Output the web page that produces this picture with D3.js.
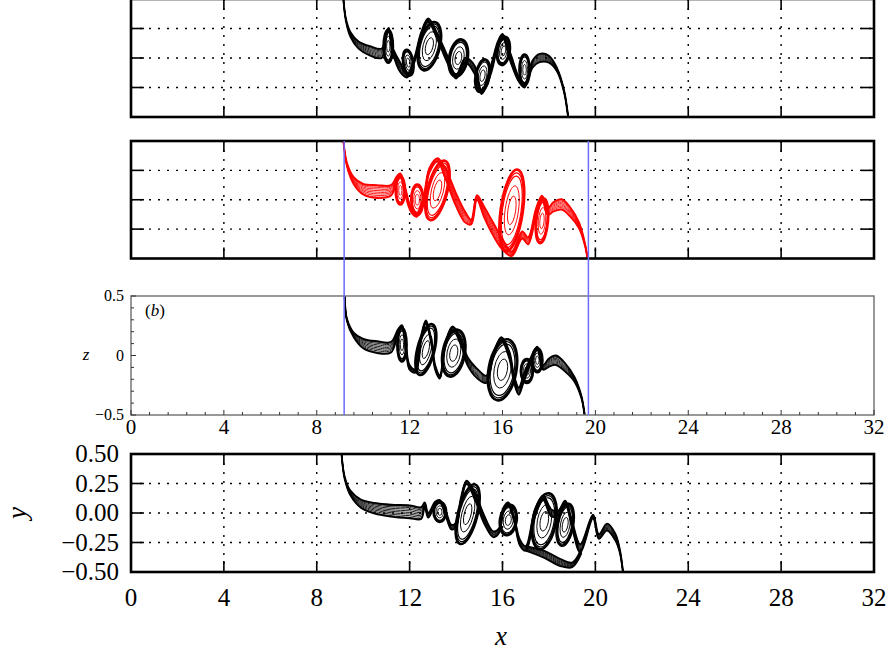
<!DOCTYPE html>
<html>
<head>
<meta charset="utf-8">
<script src="https://cdn.jsdelivr.net/npm/d3@7"></script>
<style>
body { margin: 0; background: #fff; }
svg { display: block; }
</style>
</head>
<body>
<svg id="fig" width="890" height="655"></svg>
<script>
// axis values
const xTicks = [0, 4, 8, 12, 16, 20, 24, 28, 32];
const xMinorC = d3.range(0, 32.01, 0.8);
const yGrid = [0.25, 0, -0.25];
const yTicksD = [0.5, 0.25, 0, -0.25, -0.5];
const yTicksC = [0.5, 0, -0.5];
const yMinorC = [-0.4, -0.3, -0.2, -0.1, 0.1, 0.2, 0.3, 0.4];
const cutX = [9.18, 19.7];

// filament centre lines: [x, y, half band width]
const filamentA = [
  [9.14, 0.52, 0], [9.25, 0.33, 0.01], [9.45, 0.2, 0.02], [9.8, 0.11, 0.03],
  [10.3, 0.06, 0.04], [10.8, 0.04, 0.04], [11.0, 0.2, 0.02], [11.1, 0.245, 0.01],
  [11.25, 0.08, 0.02], [11.6, -0.08, 0.04], [11.9, -0.15, 0.015], [12.2, -0.02, 0.02],
  [12.5, 0.2, 0.02], [12.8, 0.32, 0.015], [13.2, 0.18, 0.025], [13.6, 0.0, 0.03],
  [14.0, -0.16, 0.015], [14.4, -0.02, 0.02], [14.8, -0.1, 0.035], [15.1, -0.29, 0.015],
  [15.5, -0.1, 0.035], [15.8, 0.12, 0.02], [16.0, 0.19, 0.015], [16.35, 0.0, 0.035],
  [16.7, -0.18, 0.02], [16.95, -0.235, 0.015], [17.3, -0.05, 0.03], [17.6, 0.0, 0.035],
  [18.0, -0.01, 0.03], [18.35, -0.1, 0.015], [18.65, -0.28, 0.01], [18.84, -0.52, 0.005]
];
// vortex cores: [x, y, half width, half height, tilt in degrees]
const vorticesA = [
  [11.08, 0.10, 0.2, 0.14, 0], [11.94, -0.04, 0.22, 0.11, -8], [12.85, 0.10, 0.45, 0.21, 14],
  [14.1, 0.0, 0.4, 0.16, 10], [15.14, -0.15, 0.3, 0.14, 10], [16.04, 0.06, 0.27, 0.12, 8],
  [16.95, -0.1, 0.22, 0.13, 0]
];

const filamentB = [
  [9.14, 0.52, 0], [9.3, 0.3, 0.015], [9.6, 0.16, 0.03], [10.0, 0.09, 0.045],
  [10.6, 0.07, 0.055], [11.2, 0.08, 0.045], [11.45, 0.18, 0.02], [11.6, 0.21, 0.015],
  [11.8, 0.08, 0.03], [12.05, -0.08, 0.02], [12.3, -0.13, 0.015], [12.6, 0.0, 0.03],
  [12.85, 0.25, 0.02], [13.2, 0.34, 0.015], [13.55, 0.22, 0.045], [14.0, 0.0, 0.055],
  [14.4, -0.15, 0.045], [14.65, -0.19, 0.02], [14.9, 0.02, 0.02], [15.2, -0.1, 0.045],
  [15.6, -0.25, 0.055], [16.0, -0.38, 0.045], [16.4, -0.46, 0.02], [16.85, -0.3, 0.03],
  [17.1, -0.35, 0.03], [17.45, -0.1, 0.03], [17.7, 0.02, 0.015], [17.95, -0.1, 0.03],
  [18.2, -0.06, 0.04], [18.55, -0.04, 0.045], [18.9, -0.1, 0.04], [19.3, -0.22, 0.025],
  [19.55, -0.38, 0.01], [19.68, -0.52, 0.005]
];
const vorticesB = [
  [11.6, 0.08, 0.2, 0.12, 0], [12.33, 0.0, 0.26, 0.13, 0], [13.2, 0.08, 0.43, 0.26, 14],
  [16.4, -0.09, 0.48, 0.35, 8], [17.7, -0.18, 0.26, 0.19, 5]
];

const filamentC = [
  [9.2, 0.52, 0], [9.3, 0.3, 0.01], [9.6, 0.17, 0.02], [10.0, 0.1, 0.04],
  [10.6, 0.07, 0.05], [11.2, 0.07, 0.045], [11.5, 0.2, 0.02], [11.67, 0.24, 0.015],
  [11.85, 0.05, 0.02], [12.0, -0.1, 0.02], [12.25, -0.13, 0.015], [12.5, 0.15, 0.02],
  [12.7, 0.28, 0.015], [12.95, 0.1, 0.02], [13.1, -0.1, 0.02], [13.3, -0.18, 0.015],
  [13.55, 0.1, 0.02], [13.85, 0.23, 0.015], [14.2, 0.12, 0.025], [14.5, -0.05, 0.035],
  [14.9, -0.15, 0.04], [15.3, -0.2, 0.03], [15.6, 0.0, 0.02], [15.95, 0.14, 0.015],
  [16.3, 0.0, 0.03], [16.5, -0.2, 0.03], [16.7, -0.3, 0.03], [16.9, -0.2, 0.03],
  [17.2, -0.05, 0.025], [17.5, 0.06, 0.015], [17.75, -0.1, 0.02], [18.0, -0.06, 0.035],
  [18.3, -0.04, 0.04], [18.7, -0.1, 0.035], [19.1, -0.2, 0.02], [19.4, -0.35, 0.01],
  [19.55, -0.52, 0.005]
];
const vorticesC = [
  [11.67, 0.09, 0.2, 0.14, 0], [12.7, 0.05, 0.37, 0.22, 14], [13.9, 0.02, 0.48, 0.2, 10],
  [16.0, -0.12, 0.6, 0.26, 10], [17.05, -0.13, 0.26, 0.1, 0], [17.5, -0.04, 0.22, 0.1, 0]
];

const filamentD = [
  [9.06, 0.52, 0], [9.2, 0.3, 0.01], [9.45, 0.17, 0.02], [9.9, 0.08, 0.035],
  [10.5, 0.04, 0.045], [11.2, 0.02, 0.05], [12.0, 0.01, 0.055], [12.5, 0.0, 0.05],
  [12.65, 0.07, 0.02], [12.8, -0.02, 0.02], [13.1, 0.08, 0.015], [13.3, 0.1, 0.01],
  [13.55, 0.0, 0.02], [13.8, -0.12, 0.02], [14.0, -0.1, 0.02], [14.2, 0.1, 0.02],
  [14.45, 0.26, 0.015], [14.8, 0.15, 0.03], [15.2, -0.05, 0.035], [15.6, -0.18, 0.025],
  [15.85, -0.15, 0.02], [16.05, 0.03, 0.02], [16.25, 0.075, 0.015], [16.5, -0.05, 0.02],
  [16.75, -0.25, 0.025], [17.0, -0.3, 0.02], [17.4, 0.0, 0.03], [17.75, 0.13, 0.02],
  [18.1, 0.0, 0.03], [18.4, 0.0, 0.02], [18.7, 0.09, 0.015], [19.0, -0.1, 0.03],
  [19.35, -0.3, 0.035], [19.9, -0.03, 0.015], [20.15, -0.2, 0.02], [20.5, -0.12, 0.03],
  [20.85, -0.2, 0.03], [21.05, -0.32, 0.015], [21.2, -0.52, 0.005]
];
const filamentDLow = [
  [17.0, -0.3, 0.02], [17.8, -0.35, 0.03], [18.5, -0.42, 0.03], [19.0, -0.44, 0.02],
  [19.4, -0.32, 0.02]
];
const vorticesD = [
  [13.3, 0.01, 0.27, 0.085, 0], [14.5, -0.01, 0.42, 0.26, 14], [16.25, -0.06, 0.36, 0.13, 8],
  [17.8, -0.07, 0.5, 0.24, 10], [18.7, -0.1, 0.34, 0.18, 10]
];

const bandSteps = [-1, -0.85, -0.6, -0.35, -0.1, 0.15, 0.4, 0.65, 0.85, 1];
const ringSteps = [1, 0.92, 0.84, 0.6, 0.35];

const svg = d3.select('#fig');
const x = d3.scaleLinear().domain([0, 32]).range([131, 874]);

const panels = [
  { id: 'a', top: -1, bottom: 117, kind: 'grid', color: '#000', fil: [filamentA], vort: vorticesA },
  { id: 'b', top: 141, bottom: 258.5, kind: 'grid', color: '#f00', fil: [filamentB], vort: vorticesB },
  { id: 'c', top: 296, bottom: 415, kind: 'plain', color: '#000', fil: [filamentC], vort: vorticesC },
  { id: 'd', top: 454, bottom: 572, kind: 'grid', color: '#000', fil: [filamentD, filamentDLow], vort: vorticesD }
];

panels.forEach(p => {
  const y = d3.scaleLinear().domain([-0.5, 0.5]).range([p.bottom, p.top]);
  p.y = y;
  const g = svg.append('g');

  g.append('clipPath').attr('id', 'clip-' + p.id)
    .append('rect')
    .attr('x', x(0)).attr('y', y(0.5))
    .attr('width', x(32) - x(0)).attr('height', y(-0.5) - y(0.5));

  if (p.kind === 'grid') {
    // dotted grid
    g.selectAll('.vg').data(xTicks.slice(1, -1)).enter().append('line')
      .attr('x1', d => x(d)).attr('x2', d => x(d))
      .attr('y1', y(0.5)).attr('y2', y(-0.5))
      .attr('stroke', '#000').attr('stroke-width', 1.4).attr('stroke-dasharray', '2,7');
    g.selectAll('.hg').data(yGrid).enter().append('line')
      .attr('x1', x(0)).attr('x2', x(32))
      .attr('y1', d => y(d)).attr('y2', d => y(d))
      .attr('stroke', '#000').attr('stroke-width', 1.4).attr('stroke-dasharray', '2,7');
    // inward ticks
    const tl = 11;
    xTicks.slice(1, -1).forEach(t => {
      g.append('line').attr('x1', x(t)).attr('x2', x(t))
        .attr('y1', y(-0.5)).attr('y2', y(-0.5) - tl).attr('stroke', '#000').attr('stroke-width', 1.6);
      g.append('line').attr('x1', x(t)).attr('x2', x(t))
        .attr('y1', y(0.5)).attr('y2', y(0.5) + tl).attr('stroke', '#000').attr('stroke-width', 1.6);
    });
    yGrid.forEach(t => {
      g.append('line').attr('x1', x(0)).attr('x2', x(0) + tl + 2)
        .attr('y1', y(t)).attr('y2', y(t)).attr('stroke', '#000').attr('stroke-width', 1.6);
      g.append('line').attr('x1', x(32)).attr('x2', x(32) - tl - 2)
        .attr('y1', y(t)).attr('y2', y(t)).attr('stroke', '#000').attr('stroke-width', 1.6);
    });
  }

  // contour bands
  const cg = g.append('g').attr('clip-path', 'url(#clip-' + p.id + ')');
  p.fil.forEach(f => {
    bandSteps.forEach(k => {
      const line = d3.line()
        .x(d => x(d[0]))
        .y(d => y(d[1] + k * d[2]))
        .curve(d3.curveCatmullRom.alpha(0.5));
      cg.append('path').attr('d', line(f))
        .attr('fill', 'none').attr('stroke', p.color)
        .attr('stroke-width', Math.abs(k) === 1 ? 1.8 : 0.9);
    });
  });
  p.vort.forEach(v => {
    const cx = x(v[0]), cy = y(v[1]);
    ringSteps.forEach((s, i) => {
      cg.append('ellipse')
        .attr('transform', 'translate(' + cx + ',' + cy + ') rotate(' + v[4] + ')')
        .attr('rx', (x(v[0] + v[2]) - cx) * s)
        .attr('ry', (y(v[1] - v[3]) - cy) * s)
        .attr('fill', 'none').attr('stroke', p.color)
        .attr('stroke-width', i === 0 ? 2.6 : (i < 3 ? 1.2 : 0.9));
    });
  });

  if (p.kind === 'grid') {
    g.append('rect')
      .attr('x', x(0)).attr('y', y(0.5))
      .attr('width', x(32) - x(0)).attr('height', y(-0.5) - y(0.5))
      .attr('fill', 'none').attr('stroke', '#000').attr('stroke-width', 2.6);
  } else {
    g.append('rect')
      .attr('x', x(0)).attr('y', y(0.5))
      .attr('width', x(32) - x(0)).attr('height', y(-0.5) - y(0.5))
      .attr('fill', 'none').attr('stroke', '#777').attr('stroke-width', 1.5);
    xMinorC.forEach(t => {
      const major = Math.abs(t / 4 - Math.round(t / 4)) < 1e-6;
      g.append('line').attr('x1', x(t)).attr('x2', x(t))
        .attr('y1', y(-0.5)).attr('y2', y(-0.5) - (major ? 5 : 3))
        .attr('stroke', '#333').attr('stroke-width', 1);
    });
    yTicksC.concat(yMinorC).forEach(t => {
      const major = yTicksC.includes(t);
      g.append('line').attr('x1', x(0)).attr('x2', x(0) + (major ? 5 : 3))
        .attr('y1', y(t)).attr('y2', y(t))
        .attr('stroke', '#333').attr('stroke-width', 1);
    });
  }
});

// blue cut lines through panels b and c
const pb = panels[1], pc = panels[2];
svg.selectAll('.cut').data(cutX).enter().append('line')
  .attr('x1', d => x(d)).attr('x2', d => x(d))
  .attr('y1', pb.y(0.5)).attr('y2', pc.y(-0.5))
  .attr('stroke', '#6b6bff').attr('stroke-width', 1.5);

// panel c labels
const serif = "'Liberation Serif', 'DejaVu Serif', serif";
const fmtC = d => d === 0 ? '0' : d3.format('.1f')(d);
svg.selectAll('.ylc').data(yTicksC).enter().append('text')
  .attr('x', 124).attr('y', d => pc.y(d) + 5)
  .attr('text-anchor', 'end').attr('font-family', serif).attr('font-size', 16)
  .text(fmtC);
svg.selectAll('.xlc').data(xTicks).enter().append('text')
  .attr('x', d => x(d)).attr('y', 434)
  .attr('text-anchor', 'middle').attr('font-family', serif).attr('font-size', 21)
  .text(d => d);
svg.append('text').attr('x', 86).attr('y', 360)
  .attr('text-anchor', 'middle').attr('font-family', serif).attr('font-style', 'italic')
  .attr('font-size', 17).text('z');
const lb = svg.append('text').attr('x', 145).attr('y', 316)
  .attr('font-family', serif).attr('font-size', 17);
lb.append('tspan').text('(');
lb.append('tspan').attr('font-style', 'italic').text('b');
lb.append('tspan').text(')');

// panel d labels
const pd = panels[3];
svg.selectAll('.yld').data(yTicksD).enter().append('text')
  .attr('x', 119).attr('y', d => pd.y(d) + 8)
  .attr('text-anchor', 'end').attr('font-family', serif).attr('font-size', 25)
  .text(d => d3.format('.2f')(d));
svg.selectAll('.xld').data(xTicks).enter().append('text')
  .attr('x', d => x(d)).attr('y', 606)
  .attr('text-anchor', 'middle').attr('font-family', serif).attr('font-size', 25)
  .text(d => d);
svg.append('text').attr('x', 501).attr('y', 645)
  .attr('text-anchor', 'middle').attr('font-family', serif).attr('font-style', 'italic')
  .attr('font-size', 27).text('x');
svg.append('text').attr('transform', 'translate(26,513) rotate(-90)')
  .attr('text-anchor', 'middle').attr('font-family', serif).attr('font-style', 'italic')
  .attr('font-size', 27).text('y');
</script>
</body>
</html>
